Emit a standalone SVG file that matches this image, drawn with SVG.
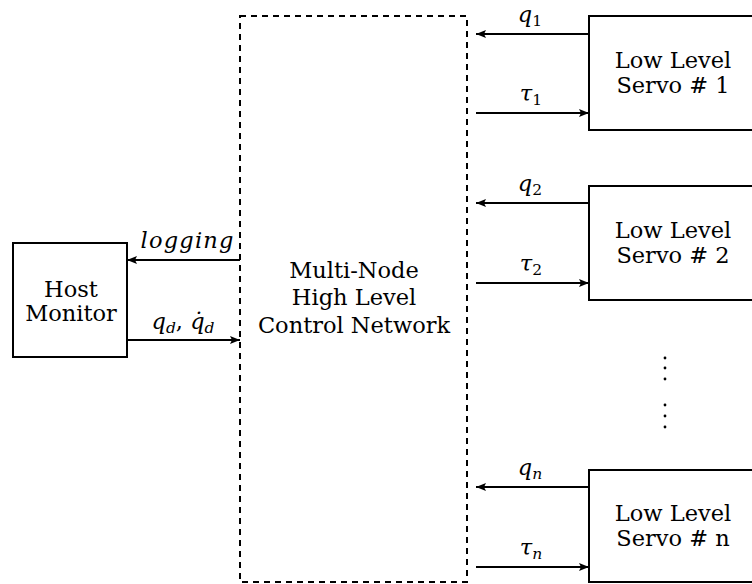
<svg xmlns="http://www.w3.org/2000/svg" width="752" height="584" viewBox="0 0 752 584">
<style>
.box{fill:#fff;stroke:#000;stroke-width:2}
.dash{fill:none;stroke:#000;stroke-width:2;stroke-dasharray:6,5}
text{font-family:'DejaVu Serif','Liberation Serif',serif;font-size:22.5px;text-anchor:middle;fill:#000}
.m{font-style:italic}
.sub{font-size:15.5px;font-style:normal}
.c{stroke:#000;stroke-width:2;fill:none;marker-end:url(#ah)}
</style>
<defs>
<marker id="ah" viewBox="0 0 10 8" refX="10" refY="4" markerWidth="10" markerHeight="8" markerUnits="userSpaceOnUse" orient="auto">
<path d="M0,0 L10,4 L0,8 L2,4 Z" fill="#000"/>
</marker>
</defs>
<g id="network">
<rect class="dash" x="240" y="16" width="227" height="566"/>
<text x="354" y="278">Multi-Node</text>
<text x="354" y="305">High Level</text>
<text x="354" y="333">Control Network</text>
</g>
<g id="host">
<rect class="box" x="13" y="243" width="114" height="114"/>
<text x="71" y="297">Host</text>
<text x="71" y="321">Monitor</text>
</g>
<g id="servo1">
<rect class="box" x="589" y="16" width="200" height="114"/>
<text x="673" y="68">Low Level</text>
<text x="673" y="93">Servo # 1</text>
</g>
<g id="servo2">
<rect class="box" x="589" y="186" width="200" height="114"/>
<text x="673" y="238">Low Level</text>
<text x="673" y="263">Servo # 2</text>
</g>
<g id="servon">
<rect class="box" x="589" y="470" width="200" height="112"/>
<text x="673" y="521">Low Level</text>
<text x="673" y="546">Servo # n</text>
</g>
<g id="dots" fill="#000">
<circle cx="665" cy="358" r="1.4"/><circle cx="665" cy="368" r="1.4"/><circle cx="665" cy="379" r="1.4"/>
<circle cx="665" cy="405" r="1.4"/><circle cx="665" cy="416" r="1.4"/><circle cx="665" cy="427" r="1.4"/>
</g>
<g id="connectors">
<line class="c" x1="589" y1="34" x2="476" y2="34"/>
<line class="c" x1="476" y1="113" x2="589" y2="113"/>
<line class="c" x1="589" y1="203" x2="476" y2="203"/>
<line class="c" x1="476" y1="283" x2="589" y2="283"/>
<line class="c" x1="589" y1="487" x2="476" y2="487"/>
<line class="c" x1="476" y1="567" x2="589" y2="567"/>
<line class="c" x1="240" y1="260" x2="127" y2="260"/>
<line class="c" x1="127" y1="340" x2="240" y2="340"/>
</g>
<g id="labels">
<text class="m" x="530" y="22">q<tspan class="sub" dy="4">1</tspan></text>
<text class="m" x="531" y="101">τ<tspan class="sub" dy="4">1</tspan></text>
<text class="m" x="530" y="191">q<tspan class="sub" dy="4">2</tspan></text>
<text class="m" x="531" y="271">τ<tspan class="sub" dy="4">2</tspan></text>
<text class="m" x="530" y="475">q<tspan class="sub" style="font-style:italic" dy="4">n</tspan></text>
<text class="m" x="531" y="555">τ<tspan class="sub" style="font-style:italic" dy="4">n</tspan></text>
<text class="m" x="187" y="248" textLength="93" lengthAdjust="spacing">logging</text>
<text class="m" x="183" y="329">q<tspan class="sub" style="font-style:italic" dy="4">d</tspan><tspan dy="-4" style="font-style:normal">, </tspan>q̇<tspan class="sub" style="font-style:italic" dy="4">d</tspan></text>
</g>
</svg>
